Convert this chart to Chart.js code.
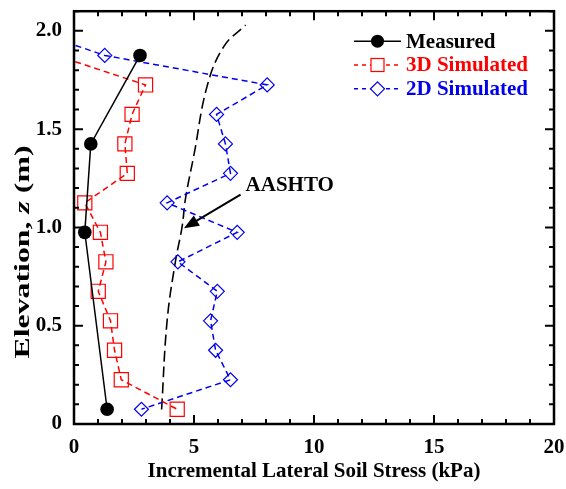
<!DOCTYPE html>
<html>
<head>
<meta charset="utf-8">
<script src="https://cdn.jsdelivr.net/npm/chart.js@4.4.1/dist/chart.umd.min.js"></script>
<style>
  html, body { margin: 0; padding: 0; background: #fff; }
  #wrap { width: 566px; height: 489px; }
</style>
</head>
<body>
<div id="wrap"><canvas id="graphStress"></canvas></div>
<script>
// elevations (m) and incremental lateral soil stress (kPa)
var measuredZ = [1.875, 1.425, 0.975, 0.075];
var measuredX = [2.75, 0.70, 0.45, 1.38];

var sim3dZ = [1.875, 1.725, 1.575, 1.425, 1.275, 1.125, 0.975, 0.825, 0.675, 0.525, 0.375, 0.225, 0.075];
var sim3dX = [-0.74, 2.98, 2.42, 2.12, 2.22, 0.45, 1.10, 1.33, 1.01, 1.52, 1.69, 1.97, 4.30];

var sim2dZ = [2.025, 1.875, 1.725, 1.575, 1.425, 1.275, 1.125, 0.975, 0.825, 0.675, 0.525, 0.375, 0.225, 0.075];
var sim2dX = [-2.3, 1.28, 8.05, 5.94, 6.31, 6.52, 3.88, 6.80, 4.33, 5.97, 5.69, 5.90, 6.52, 2.81];

var aashtoZ = [0.074, 0.525, 0.83, 1.0, 1.15, 1.37, 1.72, 1.92, 2.03];
var aashtoX = [3.65, 3.88, 4.23, 4.50, 4.65, 5.00, 5.55, 6.24, 7.15];

var xTicks = [0, 5, 10, 15, 20];
var yTicks = [0, 0.5, 1.0, 1.5, 2.0];

var serif = "'Liberation Serif', 'Times New Roman', serif";
var blue = '#0000ee';
var red = '#ff0000';

function toPoints(xs, zs) {
    return xs.map(function (v, i) { return {x: v, y: zs[i]}; });
}

function noPadding(s) {
    s.paddingLeft = 0; s.paddingRight = 0; s.paddingTop = 0; s.paddingBottom = 0;
}

// frame with inward ticks on all four sides, plus axis titles
const framePlugin = {
    id: 'frame',
    afterDraw(chart) {
        const ctx = chart.ctx;
        const a = chart.chartArea;
        const sx = chart.scales.x;
        const sy = chart.scales.y;
        ctx.save();
        ctx.strokeStyle = '#000';
        ctx.lineWidth = 2;
        ctx.beginPath();
        for (let i = 0; i <= 20; i++) {
            const px = sx.getPixelForValue(i);
            const len = i % 5 === 0 ? 9 : 5;
            ctx.moveTo(px, a.bottom); ctx.lineTo(px, a.bottom - len);
            ctx.moveTo(px, a.top); ctx.lineTo(px, a.top + len);
        }
        for (let i = 0; i <= 21; i++) {
            const py = sy.getPixelForValue(i / 10);
            const len = i % 5 === 0 ? 9 : 5;
            ctx.moveTo(a.left, py); ctx.lineTo(a.left + len, py);
            ctx.moveTo(a.right, py); ctx.lineTo(a.right - len, py);
        }
        ctx.stroke();
        ctx.lineWidth = 2.5;
        ctx.strokeRect(a.left, a.top, a.right - a.left, a.bottom - a.top);

        ctx.fillStyle = '#000';
        ctx.textBaseline = 'middle';
        ctx.textAlign = 'center';
        ctx.font = 'bold 21px ' + serif;
        ctx.fillText('Incremental Lateral Soil Stress (kPa)', (a.left + a.right) / 2, 472);

        // y title, stretched along its length like the reference
        ctx.translate(23, 252);
        ctx.rotate(-Math.PI / 2);
        const parts = [['Elevation, ', 'bold 22px '], ['z', 'italic bold 22px '], [' (m)', 'bold 22px ']];
        let total = 0;
        parts.forEach(function (p) { ctx.font = p[1] + serif; total += ctx.measureText(p[0]).width; });
        ctx.scale(213 / total, 1);
        let cx = -total / 2;
        ctx.textAlign = 'left';
        parts.forEach(function (p) {
            ctx.font = p[1] + serif;
            ctx.fillText(p[0], cx, 0);
            cx += ctx.measureText(p[0]).width;
        });
        ctx.restore();
    }
};

// AASHTO label with arrow, and the legend inside the plot
const notePlugin = {
    id: 'notes',
    afterDatasetsDraw(chart) {
        const ctx = chart.ctx;
        const a = chart.chartArea;
        const sx = chart.scales.x;
        const sy = chart.scales.y;
        ctx.save();

        ctx.fillStyle = '#000';
        ctx.font = 'bold 21px ' + serif;
        ctx.textBaseline = 'middle';
        ctx.textAlign = 'left';
        ctx.fillText('AASHTO', sx.getPixelForValue(7.15), sy.getPixelForValue(1.215));

        const x0 = sx.getPixelForValue(6.94), y0 = sy.getPixelForValue(1.167);
        const x1 = sx.getPixelForValue(4.58), y1 = sy.getPixelForValue(0.996);
        const ang = Math.atan2(y1 - y0, x1 - x0);
        const hl = 15, hw = 6;
        ctx.strokeStyle = '#000';
        ctx.lineWidth = 2;
        ctx.beginPath();
        ctx.moveTo(x0, y0);
        ctx.lineTo(x1 - Math.cos(ang) * hl * 0.8, y1 - Math.sin(ang) * hl * 0.8);
        ctx.stroke();
        ctx.beginPath();
        ctx.moveTo(x1, y1);
        ctx.lineTo(x1 - Math.cos(ang) * hl - Math.sin(ang) * hw, y1 - Math.sin(ang) * hl + Math.cos(ang) * hw);
        ctx.lineTo(x1 - Math.cos(ang) * hl + Math.sin(ang) * hw, y1 - Math.sin(ang) * hl - Math.cos(ang) * hw);
        ctx.closePath();
        ctx.fill();

        // legend
        const items = [
            {label: 'Measured', color: '#000', dash: [], marker: 'circle'},
            {label: '3D Simulated', color: red, dash: [4, 4], marker: 'square'},
            {label: '2D Simulated', color: blue, dash: [4, 4], marker: 'diamond'}
        ];
        const lx0 = a.right - 200, lx1 = a.right - 153, tx = a.right - 148;
        items.forEach(function (it, i) {
            const yy = a.top + 30 + i * 23.8;
            const mx = (lx0 + lx1) / 2;
            ctx.strokeStyle = it.color;
            ctx.lineWidth = 1.5;
            ctx.setLineDash(it.dash);
            ctx.beginPath();
            ctx.moveTo(lx0, yy); ctx.lineTo(lx1, yy);
            ctx.stroke();
            ctx.setLineDash([]);
            ctx.lineWidth = 1.2;
            if (it.marker === 'circle') {
                ctx.fillStyle = '#000';
                ctx.beginPath(); ctx.arc(mx, yy, 6.5, 0, Math.PI * 2); ctx.fill();
            } else if (it.marker === 'square') {
                ctx.fillStyle = '#fff';
                ctx.fillRect(mx - 6.5, yy - 6.5, 13, 13);
                ctx.strokeRect(mx - 6.5, yy - 6.5, 13, 13);
            } else {
                ctx.fillStyle = '#fff';
                ctx.beginPath();
                ctx.moveTo(mx, yy - 7); ctx.lineTo(mx + 7, yy); ctx.lineTo(mx, yy + 7); ctx.lineTo(mx - 7, yy);
                ctx.closePath(); ctx.fill(); ctx.stroke();
            }
            ctx.fillStyle = it.color;
            ctx.font = 'bold 21px ' + serif;
            ctx.fillText(it.label, tx, yy + 1);
        });
        ctx.restore();
    }
};

Chart.defaults.font.family = serif;
Chart.defaults.font.weight = 'bold';
Chart.defaults.font.size = 21;
Chart.defaults.color = '#000';

new Chart(document.getElementById('graphStress'), {
    type: 'scatter',
    data: {
        datasets: [
            {
                label: 'Measured',
                data: toPoints(measuredX, measuredZ),
                showLine: true,
                borderColor: '#000',
                backgroundColor: '#000',
                borderWidth: 1.5,
                pointStyle: 'circle',
                pointRadius: 6.8,
                pointBorderWidth: 0
            },
            {
                label: '3D Simulated',
                data: toPoints(sim3dX, sim3dZ),
                showLine: true,
                borderColor: red,
                backgroundColor: 'rgba(0,0,0,0)',
                borderWidth: 1.5,
                borderDash: [6, 4],
                pointStyle: 'rect',
                pointRadius: 10,
                pointBorderWidth: 1.2
            },
            {
                label: '2D Simulated',
                data: toPoints(sim2dX, sim2dZ),
                showLine: true,
                borderColor: blue,
                backgroundColor: 'rgba(0,0,0,0)',
                borderWidth: 1.5,
                borderDash: [6, 4],
                pointStyle: 'rectRot',
                pointRadius: 7,
                pointBorderWidth: 1.2
            },
            {
                label: 'AASHTO',
                data: toPoints(aashtoX, aashtoZ),
                showLine: true,
                borderColor: '#000',
                borderWidth: 1.6,
                borderDash: [11, 5],
                pointRadius: 0,
                tension: 0.4
            }
        ]
    },
    options: {
        responsive: true,
        maintainAspectRatio: false,
        animation: false,
        layout: {padding: {top: 9, right: 12, left: 0, bottom: 0}},
        plugins: {
            legend: {display: false},
            tooltip: {enabled: false}
        },
        scales: {
            x: {
                type: 'linear',
                min: 0,
                max: 20,
                grid: {display: false, drawTicks: false},
                border: {display: false},
                afterFit: function (s) { s.height = 65; noPadding(s); },
                afterBuildTicks: function (s) { s.ticks = xTicks.map(function (v) { return {value: v}; }); },
                ticks: {padding: 11, maxRotation: 0, autoSkip: false}
            },
            y: {
                type: 'linear',
                min: 0,
                max: 2.1,
                grid: {display: false, drawTicks: false},
                border: {display: false},
                afterFit: function (s) { s.width = 74; noPadding(s); },
                afterBuildTicks: function (s) { s.ticks = yTicks.map(function (v) { return {value: v}; }); },
                ticks: {
                    padding: 12,
                    autoSkip: false,
                    callback: function (v) { return v === 0 ? '0' : v.toFixed(1); }
                }
            }
        }
    },
    plugins: [framePlugin, notePlugin]
});
</script>
</body>
</html>
